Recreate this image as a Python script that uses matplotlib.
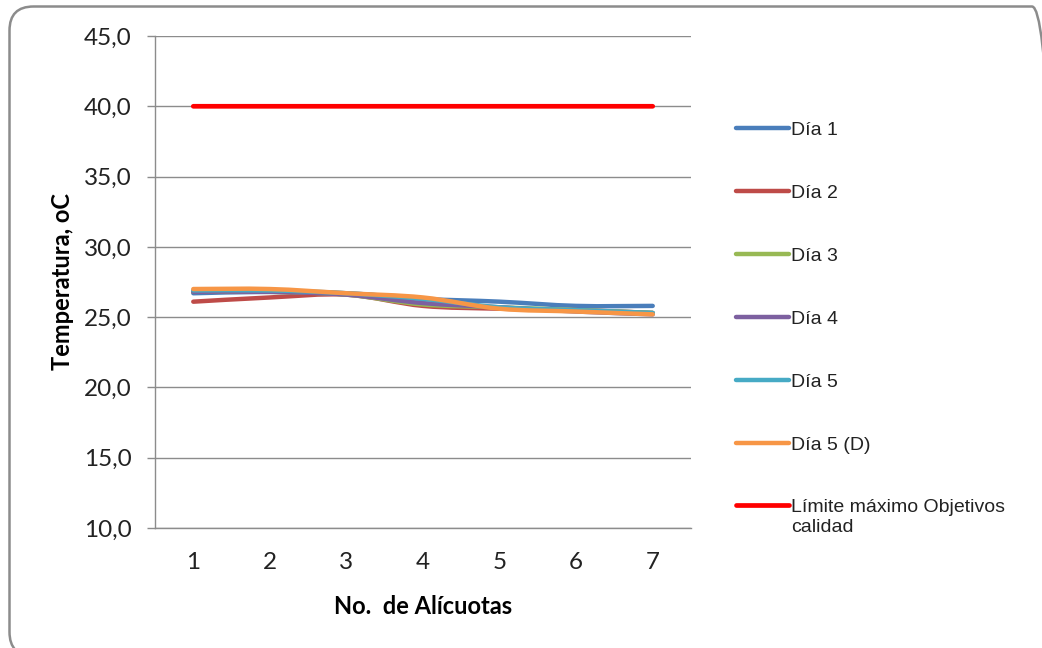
import numpy as np
import matplotlib
matplotlib.use("Agg")
import matplotlib.pyplot as plt
from matplotlib.patches import FancyBboxPatch, PathPatch
from matplotlib.path import Path
from matplotlib.lines import Line2D
from matplotlib.transforms import IdentityTransform

# Data
alicuotas = [1, 2, 3, 4, 5, 6, 7]
dia1 = [26.7, 26.8, 26.7, 26.3, 26.1, 25.8, 25.8]
dia2 = [26.1, 26.4, 26.6, 25.8, 25.6, 25.5, 25.3]
dia3 = [26.8, 26.8, 26.6, 25.9, 25.7, 25.5, 25.3]
dia4 = [26.8, 26.8, 26.6, 26.0, 25.7, 25.4, 25.2]
dia5 = [26.9, 26.9, 26.7, 26.3, 25.7, 25.5, 25.3]
dia5d = [27.0, 27.0, 26.7, 26.4, 25.6, 25.4, 25.2]
limite = [40.0] * 7

series = [
    ("Día 1", dia1, "#4a7ebb"),
    ("Día 2", dia2, "#be4b48"),
    ("Día 3", dia3, "#98b954"),
    ("Día 4", dia4, "#7d60a0"),
    ("Día 5", dia5, "#46aac5"),
    ("Día 5 (D)", dia5d, "#f79646"),
    ("Límite máximo Objetivos\ncalidad", limite, "#ff0000"),
]

yticks = [10, 15, 20, 25, 30, 35, 40, 45]

W, H = 1042, 648


def smooth_path(x, y, t=1 / 6):
    """Bezier path through the points with Catmull-Rom style control points."""
    x = np.asarray(x, float)
    y = np.asarray(y, float)
    n = len(x)
    verts = [(x[0], y[0])]
    codes = [Path.MOVETO]
    for i in range(n - 1):
        p0 = (x[max(i - 1, 0)], y[max(i - 1, 0)])
        p1 = (x[i], y[i])
        p2 = (x[i + 1], y[i + 1])
        p3 = (x[min(i + 2, n - 1)], y[min(i + 2, n - 1)])
        c1 = (p1[0] + (p2[0] - p0[0]) * t, p1[1] + (p2[1] - p0[1]) * t)
        c2 = (p2[0] - (p3[0] - p1[0]) * t, p2[1] - (p3[1] - p1[1]) * t)
        verts += [c1, c2, p2]
        codes += [Path.CURVE4] * 3
    return Path(verts, codes)


fig = plt.figure(figsize=(W / 100, H / 100), dpi=100)
fig.patch.set_facecolor("white")

# Rounded outer frame (pixel coordinates, origin bottom-left)
x0, x1 = 9.5, 1056
y0, y1 = -8, H - 6.5
frame = FancyBboxPatch((x0, y0), x1 - x0, y1 - y0,
                       boxstyle="round,pad=0,rounding_size=24",
                       transform=IdentityTransform(), facecolor="none",
                       edgecolor="#8c8c8c", linewidth=1.8)
fig.patches.append(frame)

ax = fig.add_axes([155 / W, 1 - 528 / H, (691 - 155) / W, (528 - 36) / H])
ax.set_xlim(0.5, 7.5)
ax.set_ylim(10, 45)

handles = []
for i, (name, vals, color) in enumerate(series):
    lw = 3.2 if i < 6 else 3.4
    patch = PathPatch(smooth_path(alicuotas, vals), facecolor="none", edgecolor=color,
                      linewidth=lw, capstyle="round", joinstyle="round", zorder=3 + i)
    ax.add_patch(patch)
    handles.append(Line2D([0], [0], color=color, linewidth=lw, solid_capstyle="round", label=name))

ax.set_yticks(yticks)
ax.set_yticklabels([f"{v:.1f}".replace(".", ",") for v in yticks],
                   fontfamily="Lato", fontsize=17.5, color="#222222")
ax.set_xticks(alicuotas)
ax.set_xticklabels([str(a) for a in alicuotas], fontfamily="Lato", fontsize=17.5, color="#222222")
ax.tick_params(axis="y", length=6, width=1, color="#8c8c8c", pad=11)
ax.tick_params(axis="x", length=0, pad=17)

ax.grid(axis="y", color="#8c8c8c", linewidth=1)
ax.set_axisbelow(True)
for s in ["top", "right"]:
    ax.spines[s].set_visible(False)
for s in ["left", "bottom"]:
    ax.spines[s].set_color("#8c8c8c")
    ax.spines[s].set_linewidth(1)

ax.set_ylabel("Temperatura, oC", fontfamily="Lato", fontweight="bold", fontsize=17, labelpad=7)
ax.set_xlabel("No.  de Alícuotas", fontfamily="Lato", fontweight="bold", fontsize=17, labelpad=16)

leg = fig.legend(handles=handles, loc="upper left", bbox_to_anchor=(719 / W, 1 - 104 / H),
                 frameon=False, handlelength=2.72, handletextpad=0.1, labelspacing=2.33,
                 prop={"family": "Liberation Sans", "size": 14})
for txt in leg.get_texts():
    txt.set_color("#222222")

# Align the two-line entry's swatch with its first text line
last = leg.legend_handles[-1]
last.set_ydata(np.asarray(last.get_ydata(), float) + 8.4)

fig.savefig("out.png", dpi=100, facecolor="white")
